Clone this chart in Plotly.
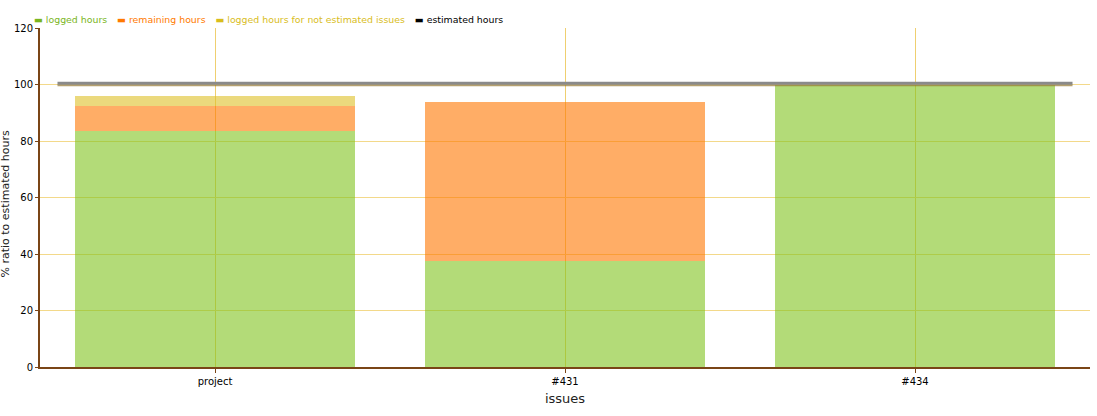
import plotly.graph_objects as go

categories = ["project", "#431", "#434"]
logged = [83.5, 37.5, 100.0]
remaining = [8.9, 56.3, 0.0]
not_estimated = [3.5, 0.0, 0.0]
estimated = 100.0
y_ticks = [0, 20, 40, 60, 80, 100, 120]

pos = list(range(len(categories)))
GREEN = "rgba(128,195,30,0.6)"
ORANGE = "rgba(255,118,0,0.6)"
YELLOW = "rgba(222,192,38,0.6)"
BROWN = "#7a4516"
GRID = "#f3d98a"
XGRID = "#efcf70"

fig = go.Figure()
fig.add_trace(go.Bar(x=pos, y=logged, marker=dict(color=GREEN, line=dict(width=0)), width=0.8, showlegend=False))
fig.add_trace(go.Bar(x=pos, y=remaining, marker=dict(color=ORANGE, line=dict(width=0)), width=0.8, showlegend=False))
fig.add_trace(go.Bar(x=pos, y=not_estimated, marker=dict(color=YELLOW, line=dict(width=0)), width=0.8, showlegend=False))
fig.add_trace(go.Scatter(x=[pos[0] - 0.45, pos[-1] + 0.45], y=[estimated - 0.3, estimated - 0.3], mode="lines",
                         line=dict(color="rgba(150,120,50,0.7)", width=2), showlegend=False, hoverinfo="skip"))
fig.add_trace(go.Scatter(x=[pos[0] - 0.45, pos[-1] + 0.45], y=[estimated + 0.4, estimated + 0.4], mode="lines",
                         line=dict(color="#8a8a8a", width=3), showlegend=False))

legend_items = [("logged hours", "#7ab51d"), ("remaining hours", "#ff7a00"),
                ("logged hours for not estimated issues", "#d9bd1c"), ("estimated hours", "#000000")]
parts = []
for name, col in legend_items:
    parts.append(f"<span style='color:{col}'>▬</span> <span style='color:{col}'>{name}</span>")
legend_text = "&nbsp;&nbsp;&nbsp;&#8202;".join(parts)
fig.add_annotation(text=legend_text, xref="paper", yref="paper", x=0, y=1, xanchor="left", yanchor="bottom",
                   xshift=-8, yshift=1, showarrow=False, font=dict(family="DejaVu Sans", size=9.4))
fig.add_annotation(text="% ratio to estimated hours", xref="paper", yref="paper", x=0, y=0.5,
                   xanchor="center", yanchor="middle",
                   xshift=-35, yshift=-7, textangle=-90, showarrow=False,
                   font=dict(family="DejaVu Sans", size=11, color="#222"))

fig.update_layout(
    width=1097, height=416,
    margin=dict(l=40, r=7, t=28, b=49),
    barmode="stack",
    plot_bgcolor="white", paper_bgcolor="white",
    font=dict(family="DejaVu Sans", size=10, color="#000"),
    showlegend=False,
)
fig.update_xaxes(range=[-0.5, len(categories) - 0.5], tickvals=pos, ticktext=categories,
                 showgrid=True, gridcolor=XGRID, gridwidth=1,
                 showline=True, linecolor=BROWN, linewidth=2,
                 ticks="outside", ticklen=4, tickcolor=BROWN, tickwidth=1,
                 title=dict(text="issues", font=dict(size=13, color="#222"), standoff=8),
                 zeroline=False, fixedrange=True, automargin=False)
fig.update_yaxes(range=[0, 120], tickvals=y_ticks, showgrid=True, gridcolor=GRID, gridwidth=1,
                 showline=True, linecolor=BROWN, linewidth=2,
                 ticks="outside", ticklen=3, tickcolor=BROWN, tickwidth=1,
                 zeroline=False, fixedrange=True, automargin=False)

fig.write_html("out.html", config={"displayModeBar": False},
               post_script="document.body.style.margin='0';document.body.style.overflow='hidden';")
